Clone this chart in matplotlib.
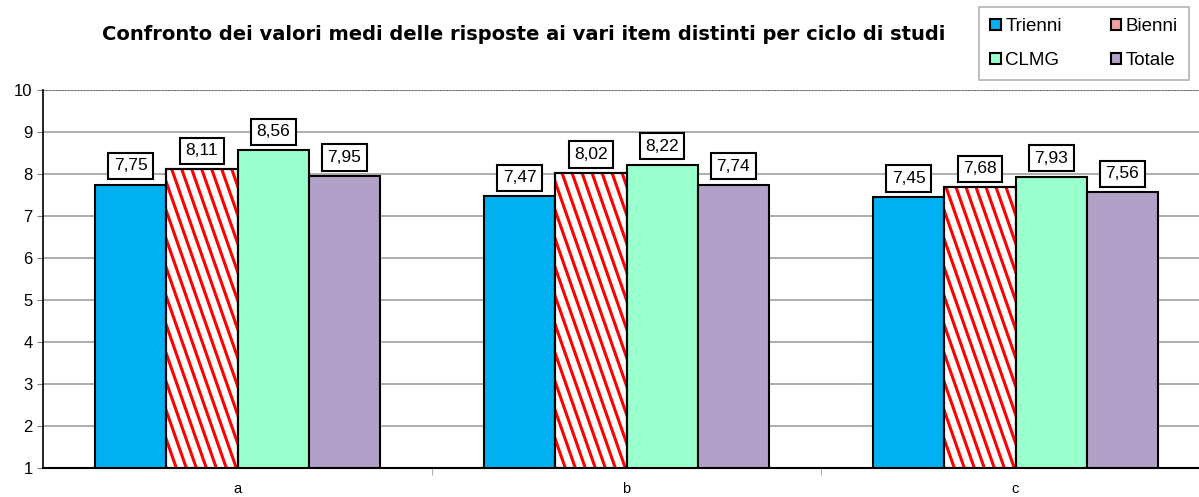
import numpy as np
import matplotlib.pyplot as plt
from matplotlib.patches import Patch

categories = ['a', 'b', 'c']
series = ['Trienni', 'Bienni', 'CLMG', 'Totale']
trienni = [7.75, 7.47, 7.45]
bienni = [8.11, 8.02, 7.68]
clmg = [8.56, 8.22, 7.93]
totale = [7.95, 7.74, 7.56]
values = [trienni, bienni, clmg, totale]

colors = ['#00B0F0', 'white', '#99FFCC', '#B1A0C7']
legend_colors = ['#00B0F0', '#F4A0A0', '#99FFCC', '#B1A0C7']

plt.rcParams['font.family'] = ['Liberation Sans', 'DejaVu Sans']

W, H = 1199, 497
fig = plt.figure(figsize=(W / 100, H / 100), dpi=100)
# axes run a bit past the right edge, as in the original
ax_w = 1167
ax_h = 378
ax = fig.add_axes([43 / W, 29 / H, ax_w / W, ax_h / H])
ax.set_xlim(-0.5, 2.5)
ax.set_ylim(1, 10)

# data units per pixel
ux = 3.0 / ax_w
uy = 9.0 / ax_h

x = np.arange(len(categories))
w = 0.183
for i, (name, vals) in enumerate(zip(series, values)):
    pos = x + (i - 1.5) * w
    bars = ax.bar(pos, np.array(vals) - 1, w, bottom=1, color=colors[i],
                  edgecolor='black', linewidth=1.5, zorder=3)
    if name == 'Bienni':
        # steep red stripes clipped to each bar
        for b in bars:
            x0 = b.get_x()
            top = b.get_y() + b.get_height()
            hpx = b.get_height() / uy
            slope = 0.35
            start = x0 - slope * hpx * ux
            xs = np.arange(start, x0 + b.get_width() + 10 * ux, 10 * ux)
            for xs0 in xs:
                ln, = ax.plot([xs0, xs0 + slope * hpx * ux], [top, 1],
                              color='red', linewidth=2.2, zorder=3.5,
                              solid_capstyle='butt')
                ln.set_clip_path(b)
            ax.bar(b.get_x() + b.get_width() / 2, b.get_height(), w, bottom=1,
                   fill=False, edgecolor='black', linewidth=1.5, zorder=4)
    for p, v in zip(pos, vals):
        ax.annotate(f'{v:.2f}'.replace('.', ','), (p, v), xytext=(0, 8),
                    textcoords='offset points', ha='center', va='bottom',
                    fontsize=12.5, zorder=5,
                    bbox=dict(boxstyle='square,pad=0.32', fc='white', ec='black', lw=1.5))

ax.set_yticks(range(1, 11))
ax.tick_params(axis='y', labelsize=12, length=4, color='#808080')
ax.set_xticks(x)
ax.set_xticklabels(categories, fontsize=10.5)
ax.set_xticks([0.5, 1.5], minor=True)
ax.tick_params(axis='x', which='major', length=0, pad=10)
ax.tick_params(axis='x', which='minor', length=5, color='#A0A0A0')
ax.yaxis.grid(True, color='#A0A0A0', linewidth=1.2, zorder=0)
ax.set_axisbelow(True)
ax.axhline(10, color='#707070', linewidth=1.5, linestyle=(0, (1, 0.5)), zorder=1)
for s in ['top', 'right']:
    ax.spines[s].set_visible(False)
ax.spines['left'].set_linewidth(1.2)
ax.spines['bottom'].set_linewidth(1.5)

fig.text(524 / W, 1 - 35 / H,
         'Confronto dei valori medi delle risposte ai vari item distinti per ciclo di studi',
         ha='center', va='center', fontsize=14, fontweight='bold', family=['DejaVu Sans'])

handles = [Patch(facecolor=c, edgecolor='black', lw=1.5) for c in legend_colors]
# reorder so the legend fills row by row
order = [0, 2, 1, 3]
leg = fig.legend([handles[k] for k in order], [series[k] for k in order], ncol=2,
                 loc='upper left', bbox_to_anchor=(979 / W, 1 - 7 / H), fontsize=13.5,
                 handlelength=0.55, handleheight=0.55, handletextpad=0.25,
                 columnspacing=2.6, frameon=True, fancybox=False,
                 borderpad=0.6, labelspacing=0.9, borderaxespad=0)
leg.get_frame().set_edgecolor('#A0A0A0')
leg.get_frame().set_linewidth(1.2)

fig.savefig('out.png', dpi=100)
